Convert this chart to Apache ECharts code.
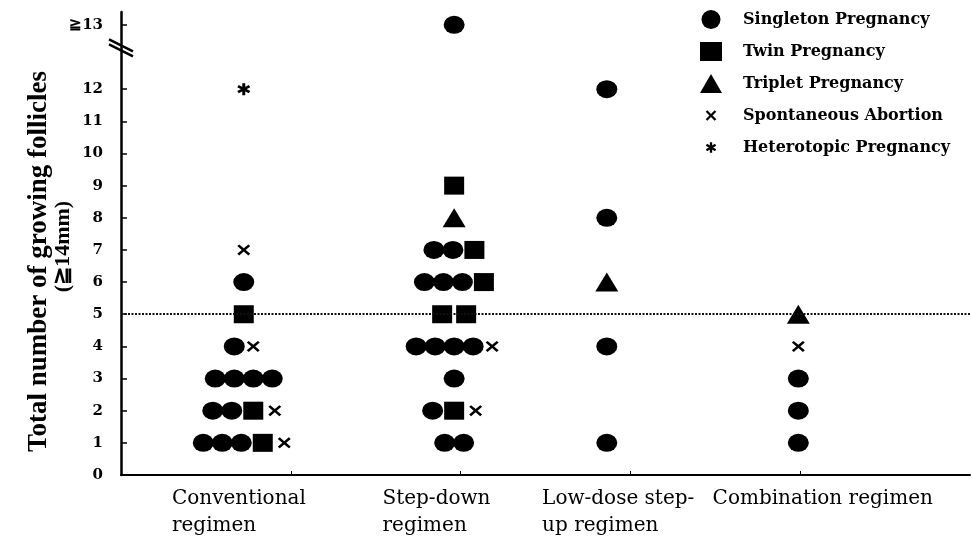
<!DOCTYPE html>
<html>
<head>
<meta charset="utf-8">
<script src="https://cdn.jsdelivr.net/npm/echarts@6/dist/echarts.min.js"></script>
<style>
  html, body { margin: 0; padding: 0; background: #fff; }
  #chart { width: 972px; height: 539px; }
</style>
</head>
<body>
<div id="chart"></div>
<script>
// ---- data ----
const regimens = ['Conventional\nregimen', 'Step-down\nregimen', 'Low-dose step-\nup regimen', 'Combination regimen'];
const outcomeNames = ['Singleton Pregnancy', 'Twin Pregnancy', 'Triplet Pregnancy', 'Spontaneous Abortion', 'Heterotopic Pregnancy'];
const outcomeCodes = ['S', 'W', 'T', 'A', 'H'];
const yTickValues = [0, 1, 2, 3, 4, 5, 6, 7, 8, 9, 10, 11, 12, 13]; // 13 stands for "13 or more"
const yTitle = 'Total number of growing follicles';
const ySubtitle = '(≧14mm)';
const cutoffFollicles = 5;

// Each case: [growing follicles, outcome code], listed left to right within a row
const conventionalCases = [
  [1, 'S'], [1, 'S'], [1, 'S'], [1, 'W'], [1, 'A'],
  [2, 'S'], [2, 'S'], [2, 'W'], [2, 'A'],
  [3, 'S'], [3, 'S'], [3, 'S'], [3, 'S'],
  [4, 'S'], [4, 'A'],
  [5, 'W'],
  [6, 'S'],
  [7, 'A'],
  [12, 'H']
];
const stepDownCases = [
  [1, 'S'], [1, 'S'],
  [2, 'S'], [2, 'W'], [2, 'A'],
  [3, 'S'],
  [4, 'S'], [4, 'S'], [4, 'S'], [4, 'S'], [4, 'A'],
  [5, 'W'], [5, 'W'],
  [6, 'S'], [6, 'S'], [6, 'S'], [6, 'W'],
  [7, 'S'], [7, 'S'], [7, 'W'],
  [8, 'T'],
  [9, 'W'],
  [13, 'S']
];
const lowDoseCases = [[1, 'S'], [4, 'S'], [6, 'T'], [8, 'S'], [12, 'S']];
const combinationCases = [[1, 'S'], [2, 'S'], [3, 'S'], [4, 'A'], [5, 'T']];

// ---- layout ----
const columnCentre = [0.723, 1.962, 2.861, 3.989];   // x-axis units
const labelStart = [0.30, 1.54, 2.48, 3.484];
const unitsPerPx = 5 / 849;                           // x-axis span over grid width
const breakGap = 1;                                   // axis space skipped between 12 and "13 or more"
const axisPos = v => (v >= 13 ? v + breakGap : v);

const crossPath = 'M0,1.5L1.5,0L5,3.5L8.5,0L10,1.5L6.5,5L10,8.5L8.5,10L5,6.5L1.5,10L0,8.5L3.5,5Z';
const starPath = 'M3.9,0L6.1,0L6.1,10L3.9,10ZM8.78,1.55L9.88,3.45L1.22,8.45L0.12,6.55ZM9.88,6.55L8.78,8.45L0.12,3.45L1.22,1.55Z';
const pad = 'M-4,-4L-4,-4M14,14L14,14';

// halfSlot: half the horizontal room a marker takes in a row (px)
const markerStyle = {
  S: { symbol: 'circle', size: [21, 18], icon: 'circle', halfSlot: 9.5 },
  W: { symbol: 'rect', size: [20, 18], icon: 'rect', halfSlot: 12 },
  T: { symbol: 'triangle', size: [23, 19], icon: 'triangle', halfSlot: 11.5 },
  A: { symbol: 'path://' + crossPath, size: [13, 11], icon: 'path://' + crossPath + pad, halfSlot: 9.5 },
  H: { symbol: 'path://' + starPath, size: [13, 12], icon: 'path://' + starPath + pad, halfSlot: 8 }
};

// Lay each row of cases side by side around its regimen's column
const points = { S: [], W: [], T: [], A: [], H: [] };
[conventionalCases, stepDownCases, lowDoseCases, combinationCases].forEach((list, ci) => {
  const rows = new Map();
  list.forEach(([v, code]) => {
    if (!rows.has(v)) rows.set(v, []);
    rows.get(v).push(code);
  });
  rows.forEach((row, v) => {
    const offsets = [];
    let cursor = 0;
    row.forEach((code, i) => {
      if (i > 0) cursor += markerStyle[row[i - 1]].halfSlot + markerStyle[code].halfSlot;
      offsets.push(cursor);
    });
    const mid = cursor / 2;
    row.forEach((code, i) => {
      points[code].push([columnCentre[ci] + (offsets[i] - mid) * unitsPerPx, axisPos(v)]);
    });
  });
});

const yTickPos = yTickValues.map(axisPos);

const series = outcomeCodes.map((code, k) => {
  const s = {
    name: outcomeNames[k],
    type: 'scatter',
    symbol: markerStyle[code].symbol,
    symbolSize: markerStyle[code].size,
    symbolKeepAspect: false,
    itemStyle: { color: '#000', opacity: 1 },
    emphasis: { disabled: true },
    data: points[code]
  };
  if (k === 0) {
    s.markLine = {
      silent: true,
      symbol: 'none',
      label: { show: false },
      lineStyle: { color: '#111', type: [2, 1.5], width: 2 },
      data: [{ yAxis: cutoffFollicles }]
    };
  }
  return s;
});

const chart = echarts.init(document.getElementById('chart'), null, { renderer: 'canvas' });
chart.setOption({
  animation: false,
  backgroundColor: '#fff',
  grid: { left: 121, right: 2, top: 12, bottom: 64, outerBoundsMode: 'none' },
  legend: {
    orient: 'vertical',
    left: 695,
    top: 5,
    itemWidth: 22,
    itemHeight: 19,
    itemGap: 13,
    selectedMode: false,
    data: outcomeCodes.map((code, k) => ({ name: outcomeNames[k], icon: markerStyle[code].icon })),
    textStyle: {
      fontFamily: 'DejaVu Serif',
      fontWeight: 'bold',
      fontSize: 16,
      color: '#000',
      padding: [0, 0, 0, 16]
    }
  },
  xAxis: {
    type: 'value',
    min: 0,
    max: 5,
    axisLine: { show: true, onZero: false, lineStyle: { color: '#000', width: 2 } },
    axisTick: { show: true, inside: true, length: 4, customValues: [1, 2, 3, 4], lineStyle: { color: '#000', width: 1 } },
    axisLabel: {
      customValues: labelStart,
      formatter: v => {
        let best = 0;
        labelStart.forEach((p, i) => { if (Math.abs(p - v) < Math.abs(labelStart[best] - v)) best = i; });
        return regimens[best];
      },
      align: 'left',
      margin: 10,
      fontFamily: 'DejaVu Serif',
      fontSize: 20,
      lineHeight: 27,
      color: '#000'
    },
    splitLine: { show: false }
  },
  yAxis: {
    type: 'value',
    min: 0,
    max: 14.4,
    axisLine: { show: true, lineStyle: { color: '#000', width: 2.5 } },
    axisTick: { show: true, inside: true, length: 6, customValues: yTickPos, lineStyle: { color: '#000', width: 1.5 } },
    axisLabel: {
      customValues: yTickPos,
      formatter: v => (v >= 13 ? '≧13' : String(v)),
      fontFamily: 'DejaVu Serif',
      fontWeight: 'bold',
      fontSize: 15,
      color: '#000',
      margin: 18
    },
    splitLine: { show: false },
    name: '{a|' + yTitle + '}\n{b|' + ySubtitle + '}',
    nameLocation: 'middle',
    nameRotate: 90,
    nameGap: 47,
    nameMoveOverlap: false,
    nameTextStyle: {
      fontFamily: 'Liberation Serif',
      fontWeight: 'bold',
      color: '#000',
      padding: [0, 36, 0, 0],
      rich: {
        a: { fontFamily: 'Liberation Serif', fontWeight: 'bold', fontSize: 27, lineHeight: 26, color: '#000' },
        b: { fontFamily: 'Liberation Serif', fontWeight: 'bold', fontSize: 22, lineHeight: 22, color: '#000', padding: [0, 0, 0, 30] }
      }
    }
  },
  series: series
});

// Break mark on the y axis between 12 and "13 or more"
const breakAt = chart.convertToPixel({ gridIndex: 0 }, [0, 13.3]);
chart.setOption({
  graphic: [{
    type: 'group',
    x: breakAt[0],
    y: breakAt[1],
    z: 100,
    children: [
      { type: 'polygon', shape: { points: [[-12, -6], [12, 6], [12, 9], [-12, -3]] }, style: { fill: '#fff' } },
      { type: 'line', shape: { x1: -12, y1: -8, x2: 12, y2: 4 }, style: { stroke: '#000', lineWidth: 2.5 } },
      { type: 'line', shape: { x1: -12, y1: -3, x2: 12, y2: 9 }, style: { stroke: '#000', lineWidth: 2.5 } }
    ]
  }]
});
</script>
</body>
</html>
